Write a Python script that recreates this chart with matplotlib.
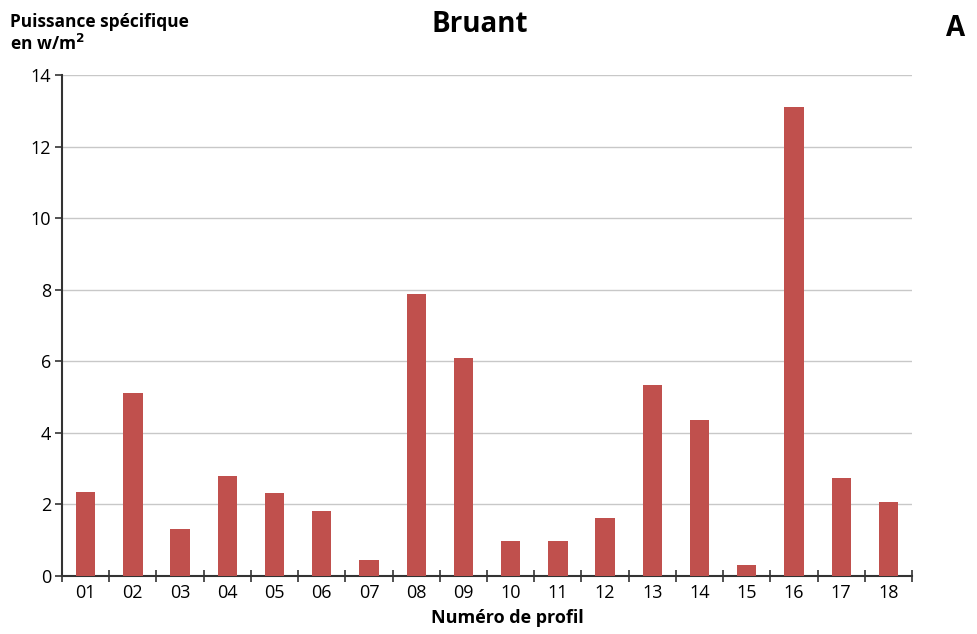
import matplotlib
matplotlib.use("Agg")
import matplotlib.pyplot as plt
import numpy as np

profils = ["01", "02", "03", "04", "05", "06", "07", "08", "09",
           "10", "11", "12", "13", "14", "15", "16", "17", "18"]
puissance = [2.33, 5.1, 1.3, 2.8, 2.3, 1.82, 0.45, 7.87, 6.1,
             0.98, 0.98, 1.62, 5.33, 4.34, 0.31, 13.1, 2.72, 2.07]
y_ticks = [0, 2, 4, 6, 8, 10, 12, 14]

plt.rcParams['font.family'] = ['Liberation Sans Narrow', 'Open Sans', 'DejaVu Sans']

fig = plt.figure(figsize=(9.77, 6.34), dpi=100)
ax = fig.add_axes([0.0635, 0.092, 0.87, 0.7897])

x = np.arange(len(profils))
ax.bar(x, puissance, width=0.41, color='#c0504d', zorder=3)

ax.set_xlim(-0.5, len(profils) - 0.5)
ax.set_ylim(0, 14)
ax.set_yticks(y_ticks)
ax.set_yticklabels([str(v) for v in y_ticks], fontsize=13)
ax.set_xticks(x)
ax.set_xticklabels(profils, fontsize=13)
ax.set_xticks(np.arange(-0.5, len(profils)), minor=True)
ax.tick_params(axis='x', which='major', length=0, pad=6)
ax.tick_params(axis='x', which='minor', length=8, direction='inout', color='#333333', width=1.2)
ax.tick_params(axis='y', length=5, direction='out', color='#333333', width=1.2, pad=3)

ax.grid(axis='y', color='#c8c8c8', linewidth=1.0, zorder=0)
for s in ['top', 'right']:
    ax.spines[s].set_visible(False)
for s in ['left', 'bottom']:
    ax.spines[s].set_color('#333333')
    ax.spines[s].set_linewidth(1.5)

fig.text(0.491, 0.962, "Bruant", ha='center', va='center', fontsize=20,
         fontweight='bold', family=['Open Sans', 'DejaVu Sans'])
fig.text(0.988, 0.955, "A", ha='right', va='center', fontsize=20,
         fontweight='bold', family=['Open Sans', 'DejaVu Sans'])
fig.text(0.010, 0.965, "Puissance spécifique", ha='left', va='center', fontsize=12.5,
         fontweight='bold', family=['Open Sans', 'DejaVu Sans'])
fig.text(0.010, 0.930, "en w/m$^{\\mathbf{2}}$", ha='left', va='center', fontsize=12.5,
         fontweight='bold', family=['Open Sans', 'DejaVu Sans'])
fig.text(0.519, 0.026, "Numéro de profil", ha='center', va='center', fontsize=13,
         fontweight='bold', family=['Open Sans', 'DejaVu Sans'])

fig.savefig("out.png", dpi=100, facecolor='white')
